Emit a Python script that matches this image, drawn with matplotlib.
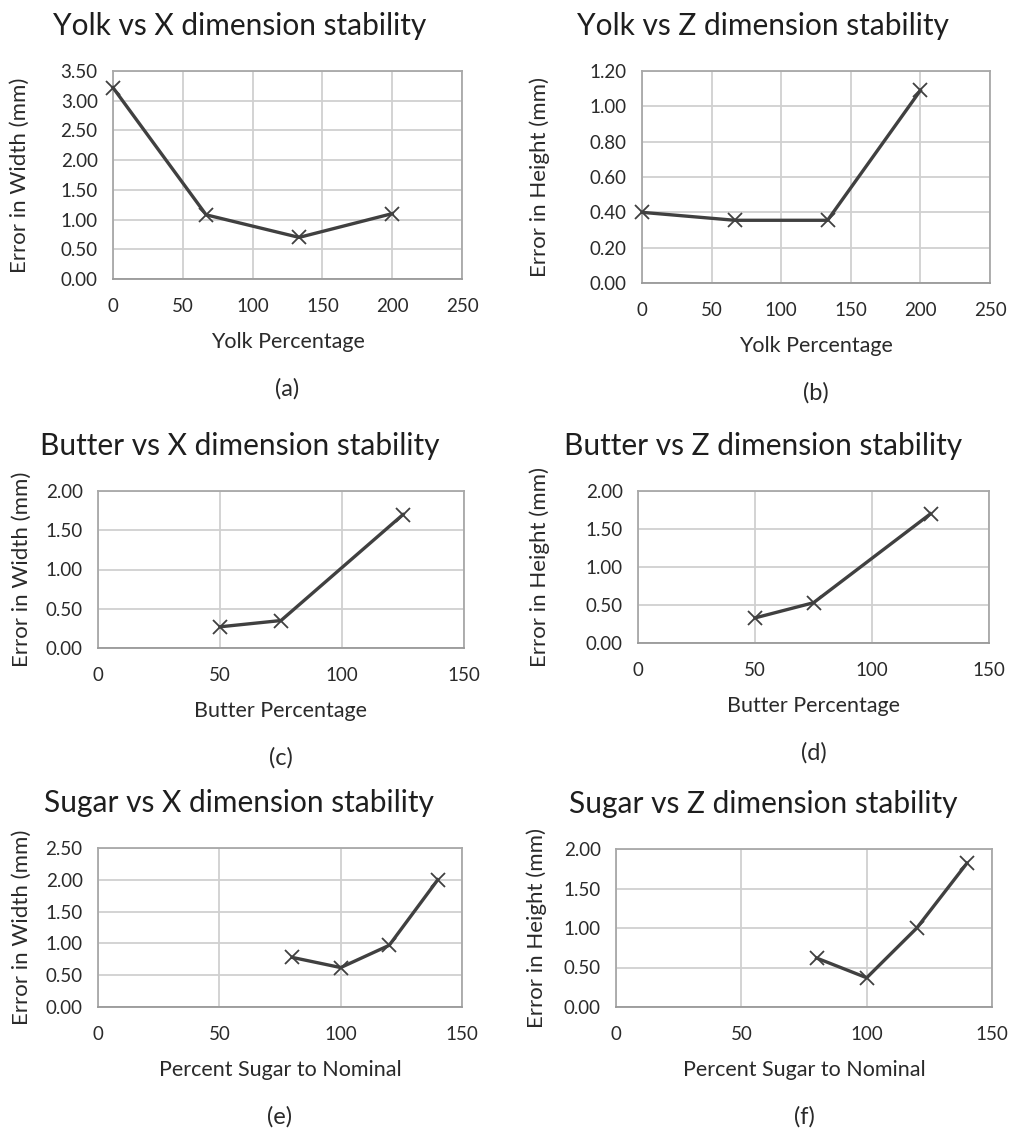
#! /usr/bin/env python3
# coding: utf-8

"""
    Six panel chart: ingredient ratio vs dimensional error (X and Z)
"""
import matplotlib
matplotlib.use("Agg")
import matplotlib.pyplot as plt
import numpy as np

# --- data ------------------------------------------------------------------
yolk_pct = [0, 66.7, 133.3, 200]
yolk_err_width = [3.22, 1.08, 0.70, 1.10]
yolk_err_height = [0.40, 0.355, 0.355, 1.09]

butter_pct = [50, 75, 125]
butter_err_width = [0.27, 0.35, 1.70]
butter_err_height = [0.33, 0.53, 1.70]

sugar_pct = [80, 100, 120, 140]
sugar_err_width = [0.78, 0.62, 0.97, 2.00]
sugar_err_height = [0.62, 0.37, 1.00, 1.82]

W, H = 1011, 1133
LINE = '#404040'
GRID = '#d0d0d0'
FRAME = '#a8a8a8'
TXT = '#2a2a2a'

plt.rcParams['font.family'] = ['Lato', 'DejaVu Sans']


def px_axes(fig, left, right, top, bottom):
    """axes placed with pixel box (origin top-left)"""
    return fig.add_axes([left / W, 1 - bottom / H, (right - left) / W, (bottom - top) / H])


def draw_panel(fig, box, x, y, xmax, ymax, ystep, title, xlabel, ylabel, tag, cx, ylab_x):
    left, right, top, bottom = box
    ax = px_axes(fig, left, right, top, bottom)
    ax.plot(x, y, color=LINE, lw=2.4, marker='x', ms=10, mew=1.3, clip_on=False, zorder=3)
    ax.set_xlim(0, xmax)
    ax.set_ylim(0, ymax)
    ax.set_xticks(np.arange(0, xmax + 1, 50))
    ax.set_yticks(np.arange(0, ymax + ystep / 2, ystep))
    ax.yaxis.set_major_formatter(matplotlib.ticker.FormatStrFormatter('%.2f'))
    ax.grid(True, color=GRID, lw=1.3)
    ax.set_axisbelow(True)
    for sp in ax.spines.values():
        sp.set_color(FRAME)
        sp.set_linewidth(1.3)
    ax.spines['bottom'].set_color('#999999')
    ax.tick_params(length=0, labelsize=13.5, labelcolor=TXT)
    ax.tick_params(axis='x', pad=14)
    ax.tick_params(axis='y', pad=11)

    # titles and labels as figure text (positions in px)
    fig.text(cx / W, 1 - (top - 45) / H, title, ha='center', va='center', fontsize=21.5, color='#1e1e1e')
    fig.text((left + right) / 2 / W, 1 - (bottom + 63) / H, xlabel, ha='center', va='center',
             fontsize=15.5, color=TXT)
    fig.text(ylab_x / W, 1 - (top + bottom) / 2 / H, ylabel, ha='center', va='center',
             rotation=90, fontsize=16, color=TXT)
    fig.text((left + right) / 2 / W, 1 - (bottom + 110) / H, tag, ha='center', va='center',
             fontsize=17, color=TXT)
    return ax


if __name__ == '__main__':
    fig = plt.figure(figsize=(W / 100, H / 100), dpi=100)

    draw_panel(fig, (113, 462, 71, 279), yolk_pct, yolk_err_width, 250, 3.5, 0.5,
               'Yolk vs X dimension stability', 'Yolk Percentage', 'Error in Width (mm)',
               '(a)', 240, 20)
    draw_panel(fig, (642, 990, 71, 283), yolk_pct, yolk_err_height, 250, 1.2, 0.2,
               'Yolk vs Z dimension stability', 'Yolk Percentage', 'Error in Height (mm)',
               '(b)', 763, 540)
    draw_panel(fig, (98, 464, 491, 648), butter_pct, butter_err_width, 150, 2.0, 0.5,
               'Butter vs X dimension stability', 'Butter Percentage', 'Error in Width (mm)',
               '(c)', 240, 22)
    draw_panel(fig, (638, 989, 491, 643), butter_pct, butter_err_height, 150, 2.0, 0.5,
               'Butter vs Z dimension stability', 'Butter Percentage', 'Error in Height (mm)',
               '(d)', 763, 540)
    draw_panel(fig, (98, 462, 848, 1007), sugar_pct, sugar_err_width, 150, 2.5, 0.5,
               'Sugar vs X dimension stability', 'Percent Sugar to Nominal', 'Error in Width (mm)',
               '(e)', 239, 22)
    draw_panel(fig, (616, 992, 849, 1007), sugar_pct, sugar_err_height, 150, 2.0, 0.5,
               'Sugar vs Z dimension stability', 'Percent Sugar to Nominal', 'Error in Height (mm)',
               '(f)', 763, 537)

    fig.savefig('out.png', dpi=100, facecolor='white')
